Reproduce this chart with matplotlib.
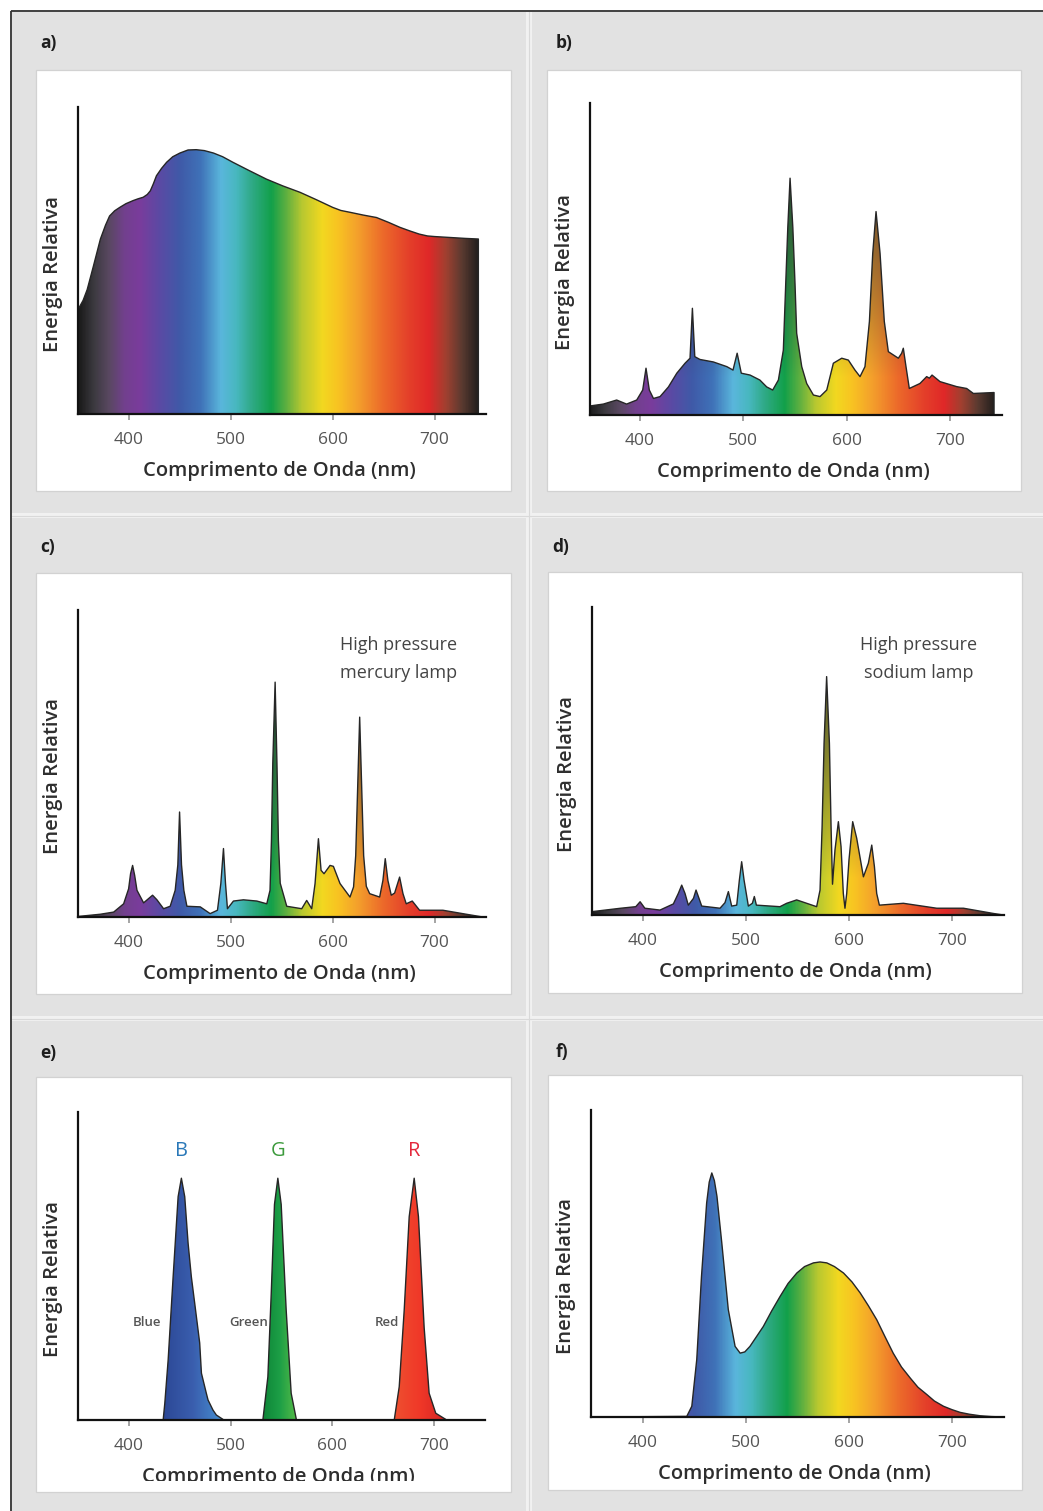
import numpy as np
import matplotlib
matplotlib.use("Agg")
import matplotlib.pyplot as plt
from matplotlib.colors import LinearSegmentedColormap, to_rgb
from matplotlib.patches import Polygon, Rectangle
from matplotlib.transforms import Bbox, TransformedBbox

plt.rcParams["font.family"] = ["Open Sans", "DejaVu Sans"]

# ---- data (wavelength nm, relative energy % of axis height) ----
A_WL = [350, 355, 359, 365, 372, 377, 381, 386, 391, 397, 404, 409, 414, 418, 421, 424, 427,
        432, 437, 443, 450, 458, 466, 474, 483, 492, 502, 518, 535, 551, 568, 584, 600, 608,
        617, 630, 643, 655, 666, 676, 685, 693, 700, 715, 730, 743]
A_EN = [34, 37, 40.5, 48, 57, 61.5, 64.5, 66.2, 67.3, 68.5, 69.5, 70.1, 70.6, 71.5, 72.7,
        75, 77.6, 80, 82, 83.8, 85, 86, 86.1, 85.8, 85, 83.8, 82, 79.3, 76.5, 74.3, 72.2,
        69.8, 67.3, 66.3, 65.7, 64.8, 64, 62.4, 60.8, 59.6, 58.6, 58, 57.8, 57.5, 57.2, 57]

B_WL = [351.6, 364.5, 377.4, 387, 396.8, 402.6, 405.8, 409, 413, 419.4, 427.5, 435.6,
        443.6, 448.4, 450.7, 453, 458, 471, 484, 490, 494, 498, 506.5, 516, 522.6, 528.4,
        533.9, 538.7, 541, 543, 545.2, 547.9, 550, 551.6, 556.5, 561.3, 567.8, 574.2, 580.7,
        587.1, 595.2, 601.6, 608, 612.9, 617.7, 622, 625.2, 628.4, 632.3, 636.4, 640.3, 650,
        653.2, 654.8, 657.4, 660.6, 670.9, 677.4, 680, 682.6, 690.3, 706.4, 716.1, 722.6,
        742.6]
B_EN = [2.9, 3.5, 4.8, 3.5, 4.8, 8, 15, 8, 5.3, 5.9, 9, 13.4, 16.6, 18.2, 34.2, 18.7,
        17.8, 17, 15.5, 14.4, 19.8, 13.4, 12.8, 11.2, 9, 8, 11.2, 20.8, 42, 60, 75.9, 60,
        42, 26.2, 15.5, 10.1, 6.4, 5.9, 8, 16.6, 18.2, 17.6, 14.4, 12.3, 15.5, 30, 51.8,
        65.2, 51.8, 30, 20.3, 18.2, 19.8, 21.4, 15.5, 8.5, 10.1, 12.3, 11.8, 12.8, 10.7,
        9.1, 8.5, 6.9, 7.2]

C_WL = [350.8, 371.9, 385, 394.8, 399.7, 401.6, 403.6, 405.6, 407.9, 414.4, 419.3, 423.2,
        427.5, 434, 440.5, 445.4, 448, 449.7, 451.6, 453.9, 456.9, 470, 479.7, 486.9,
        490.2, 492.8, 494.8, 496.7, 502.6, 512.4, 525.5, 535.3, 538.5, 539.9, 541.2, 543.5,
        545.3, 546.7, 548.5, 554.9, 569.6, 574.5, 579.4, 582.7, 586, 588.6, 591.5, 597.4,
        600.7, 607.2, 617, 620.5, 622.6, 625.2, 626.5, 627.8, 630.4, 633, 636.3, 646.1,
        649.3, 651.6, 654.2, 657.5, 660.8, 665.7, 669, 672.2, 678.1, 685.3, 708.2, 731.1,
        747.4]
C_EN = [0.2, 0.9, 1.6, 4.3, 9.2, 14.1, 16.8, 13.6, 8.7, 4.6, 6, 7.1, 5.6, 2.7, 3.5, 8.7,
        17, 34.2, 17, 8.7, 3.5, 3.3, 1.1, 2.2, 10.9, 22.3, 10.9, 2.7, 5.2, 5.6, 5.2, 4.3,
        8.7, 25, 50, 76.5, 50, 25, 11, 3.5, 2.7, 5.4, 2.7, 10.9, 25.5, 15.2, 14.1, 16.8,
        16.5, 10.9, 6.5, 9.8, 20, 50, 65.1, 50, 20, 10, 7.6, 6.5, 11.9, 19, 11.9, 7.1, 7.8,
        13, 7.6, 4.3, 5.2, 2.2, 2.2, 0.9, 0]

D_WL = [350.8, 378.4, 393, 397.2, 401.8, 416.5, 429.5, 434.3, 437.6, 440.8, 444, 449,
        451.5, 454.4, 457, 474.8, 479.6, 482.9, 486.1, 491, 493.6, 495.8, 498.1, 502.3,
        506.2, 508.1, 510.1, 533, 539.5, 549.2, 558.9, 568.6, 571.9, 573.9, 575.8, 578.3,
        581, 582.6, 584, 586.4, 589.7, 592.3, 594.5, 596.1, 597.8, 600, 603.6, 607.5,
        614, 618.8, 622.1, 624.7, 626.9, 629.5, 652.8, 685.2, 711.1, 740.2, 749.9]
D_EN = [1.1, 2.2, 2.7, 4.3, 2.2, 1.6, 3.6, 7, 9.7, 7, 3.2, 5.4, 8.1, 5.4, 2.9, 2.2, 4,
        7.6, 2.9, 3.2, 11.4, 17.3, 11.4, 2.9, 3.8, 6, 3.2, 2.7, 3.8, 4.9, 3.8, 2.7, 8.1,
        28.7, 55.7, 77.4, 55.7, 28.7, 10, 21.1, 30.3, 22.2, 7, 2.2, 7, 17.9, 30.3, 24.9,
        12.4, 16.8, 22.7, 15.7, 7, 3.2, 3.8, 2.2, 2.2, 0.5, 0]

E_BLUE_WL = [433.7, 435.3, 438.6, 443.5, 448.4, 451.6, 454.9, 458.2, 461.4, 464.7, 469.6,
             471.3, 476.1, 477.8, 482.7, 486, 492.5]
E_BLUE_EN = [0, 5.4, 19.5, 46.5, 72.5, 78.5, 72.5, 57.4, 46.5, 37.9, 25, 15.2, 8.7, 6.5,
             3.2, 1.6, 0.2]
E_GREEN_WL = [531.7, 536.6, 539.9, 543.1, 546.4, 549.7, 554.6, 559.5, 564.4]
E_GREEN_EN = [0, 14, 41, 70, 78.5, 70, 35.7, 8.7, 0.5]
E_RED_WL = [660.8, 665.7, 670.6, 675.5, 680.4, 684.6, 690.2, 695.1, 701.6, 711.4]
E_RED_EN = [0, 10.8, 35.7, 66, 78.5, 66, 30, 8.7, 2.2, 0.2]

F_WL = [351, 442.7, 447.6, 452.4, 457, 462, 464.5, 467, 469.5, 472, 476.7, 483, 489.6,
        494.5, 499, 504, 510, 517, 525, 533.3, 541, 549.5, 557, 565.6, 572, 578.6, 586,
        594.8, 603, 611, 619, 627, 635, 643, 651, 659.5, 667, 675.7, 683, 691.8, 700, 708,
        717, 727.5, 738, 750]
F_EN = [0, 0.2, 3.5, 18.7, 45.8, 69.7, 76.5, 79.5, 77, 71.9, 56.7, 35, 23, 20.8, 21.2, 23,
        26, 29.5, 34.5, 39.3, 43.5, 46.9, 49, 50.2, 50.5, 50.2, 49, 46.9, 44, 40.4, 36.2,
        31.7, 26.2, 20.8, 16.3, 12.7, 9.7, 7.3, 5.2, 3.5, 2.4, 1.5, 0.9, 0.4, 0.15, 0]

TICKS = [400, 500, 600, 700]
PANEL_LETTERS = ["a)", "b)", "c)", "d)", "e)", "f)"]
X_LABEL = "Comprimento de Onda (nm)"
Y_LABEL = "Energia Relativa"
LAMP_NOTES = {"c": ["High pressure", "mercury lamp"], "d": ["High pressure", "sodium lamp"]}
LED_LETTERS = ["B", "G", "R"]
LED_NAMES = ["Blue", "Green", "Red"]

# ---- styling ----
W, H = 1043, 1511
spectrum = LinearSegmentedColormap.from_list("spec", [
    (0.000, "#1a1a1a"), (0.0375, "#3c3a40"), (0.075, "#5a4862"), (0.1125, "#72408e"),
    (0.15, "#7a3c9c"), (0.20, "#5a4aa4"), (0.25, "#3f5aa8"), (0.30, "#3f72b8"),
    (0.35, "#5ab6dc"), (0.3875, "#48b8c0"), (0.425, "#30aa88"), (0.475, "#12a04a"),
    (0.5125, "#60b040"), (0.55, "#b8c830"), (0.60, "#f2d820"), (0.6375, "#f8c422"),
    (0.6875, "#f4a02c"), (0.75, "#ec6a2a"), (0.8125, "#e4402a"), (0.8625, "#e02828"),
    (0.905, "#a04030"), (0.945, "#5a3a30"), (0.99, "#1a1a1a"), (1.0, "#1a1a1a")])

fig = plt.figure(figsize=(W / 100, H / 100), dpi=100, facecolor="white")
bg = fig.add_axes([0, 0, 1, 1], zorder=0)
bg.set_xlim(0, W)
bg.set_ylim(H, 0)
bg.axis("off")

bg.add_patch(Rectangle((10, 10), W - 10, H - 10, facecolor="#f1f1f1", edgecolor="none"))
cols = [(12, 526), (532, W)]
rows = [(12, 513), (518, 1016), (1021, H)]
for (y0, y1) in rows:
    for (x0, x1) in cols:
        bg.add_patch(Rectangle((x0, y0), x1 - x0, y1 - y0, facecolor="#e2e2e2",
                               edgecolor="none"))
bg.plot([529, 529], [12, H], color="#d9d9d9", lw=0.8)
bg.plot([12, W], [515.5, 515.5], color="#d9d9d9", lw=0.8)
bg.plot([12, W], [1018.5, 1018.5], color="#d9d9d9", lw=0.8)
bg.plot([10.5, W], [10.5, 10.5], color="#333333", lw=1.3, solid_capstyle="butt")
bg.plot([10.5, 10.5], [10.5, H], color="#333333", lw=1.3, solid_capstyle="butt")

# panel geometry in pixels: white box, axes box (left, right, top, bottom), x limits
panels = [
    dict(key="a", box=(36, 70, 511, 491), ax=(78, 486, 107, 414), xlim=(350, 750.5),
         letter=(40, 43), wl=A_WL, en=A_EN, shade=0.0),
    dict(key="b", box=(547, 70, 1021, 491), ax=(590, 1002, 103, 415), xlim=(351.6, 750.3),
         letter=(556, 43), wl=B_WL, en=B_EN, shade=0.7),
    dict(key="c", box=(36, 573, 511, 994), ax=(78, 486, 610, 917), xlim=(350, 750.5),
         letter=(40, 547), wl=C_WL, en=C_EN, shade=0.75),
    dict(key="d", box=(548, 572, 1022, 993), ax=(592, 1004, 607, 915), xlim=(350.5, 750.5),
         letter=(552, 547), wl=D_WL, en=D_EN, shade=0.7),
    dict(key="e", box=(36, 1077, 511, 1492), ax=(78, 485, 1112, 1420), xlim=(350, 750),
         letter=(40, 1053), wl=None, en=None, shade=0.0),
    dict(key="f", box=(548, 1075, 1022, 1490), ax=(591, 1004, 1110, 1417), xlim=(349.8, 750.5),
         letter=(556, 1052), wl=F_WL, en=F_EN, shade=0.0),
]


def gradient_fill(ax, wl, en, cmap_img, zorder=2):
    verts = np.column_stack([np.r_[wl[0], wl, wl[-1]], np.r_[0, en, 0]])
    clip = Polygon(verts, closed=True, transform=ax.transData, facecolor="none",
                   edgecolor="none")
    ax.add_patch(clip)
    x0, x1 = ax.get_xlim()
    im = ax.imshow(cmap_img, extent=(x0, x1, 0, 100), origin="lower", aspect="auto",
                   interpolation="bilinear", zorder=zorder)
    im.set_clip_path(clip)
    ax.plot(list(wl) + [wl[-1]], list(en) + [0], color="#262626", lw=1.0, zorder=zorder + 1,
            solid_joinstyle="round")


def spectrum_image(xlim, shade):
    lam = np.linspace(xlim[0], xlim[1], 900)
    rgb = spectrum(np.clip((lam - 350) / 400, 0, 1))[:, :3]
    yy = np.linspace(0, 100, 400)
    s = np.clip((yy - 12) / 60, 0, 1) * shade
    dark = np.array(to_rgb("#303030"))
    return rgb[None, :, :] * (1 - s[:, None, None]) + dark * s[:, None, None]


def peak_image(xlim, lo, hi, colors):
    lam = np.linspace(xlim[0], xlim[1], 900)
    cm = LinearSegmentedColormap.from_list("pk", colors)
    rgb = cm(np.clip((lam - lo) / (hi - lo), 0, 1))[:, :3]
    return np.repeat(rgb[None, :, :], 50, axis=0)


for i, p in enumerate(panels):
    bx0, by0, bx1, by1 = p["box"]
    bg.add_patch(Rectangle((bx0, by0), bx1 - bx0, by1 - by0, facecolor="white",
                           edgecolor="#d2d2d2", lw=0.9))
    bg.text(p["letter"][0], p["letter"][1], PANEL_LETTERS[i], fontsize=12.5,
            fontweight="bold", color="#1e1e1e", va="center", ha="left")

    l, r, t, b = p["ax"]
    ax = fig.add_axes([l / W, 1 - b / H, (r - l) / W, (b - t) / H], zorder=2)
    ax.set_facecolor("none")
    ax.set_xlim(*p["xlim"])
    ax.set_ylim(0, 100)
    for side in ("top", "right"):
        ax.spines[side].set_visible(False)
    for side in ("left", "bottom"):
        ax.spines[side].set_color("#111111")
        ax.spines[side].set_linewidth(1.6)
        ax.spines[side].set_zorder(6)
    ax.set_yticks([])
    ax.set_xticks(TICKS)
    ax.set_xticklabels([str(v) for v in TICKS])
    ax.tick_params(axis="x", direction="out", length=4, width=1.1, color="#8c8c8c",
                   labelcolor="#555555", labelsize=12.5, pad=9)

    if p["key"] == "e":
        blue = peak_image(p["xlim"], 434, 492, ["#2c4896", "#3a5eae", "#4690d2"])
        green = peak_image(p["xlim"], 532, 564, ["#0e8638", "#1c9e46", "#52ba48"])
        red = peak_image(p["xlim"], 661, 711, ["#ee5030", "#f03828", "#d82424"])
        gradient_fill(ax, E_BLUE_WL, E_BLUE_EN, blue)
        gradient_fill(ax, E_GREEN_WL, E_GREEN_EN, green)
        gradient_fill(ax, E_RED_WL, E_RED_EN, red)
        led_colors = ["#2a78b8", "#3c9a3c", "#e4283c"]
        led_x = [451.6, 546.4, 680.4]
        name_x = [432, 536.5, 665.5]
        for k in range(3):
            ax.text(led_x[k], 87.3, LED_LETTERS[k], color=led_colors[k], fontsize=14.5,
                    ha="center", va="center")
            ax.text(name_x[k], 31.5, LED_NAMES[k], color="#555555", fontsize=9.5,
                    ha="right", va="center", fontweight="semibold", zorder=7)
    else:
        gradient_fill(ax, p["wl"], p["en"], spectrum_image(p["xlim"], p["shade"]))

    if p["key"] in LAMP_NOTES:
        cx = 665 if p["key"] == "c" else 668
        ys = (88.6, 79.5) if p["key"] == "c" else (87.7, 78.6)
        for line, yv in zip(LAMP_NOTES[p["key"]], ys):
            ax.text(cx, yv, line, fontsize=13, color="#444444", ha="center", va="center")

    # axis titles
    xl = bg.text((l + r) / 2 - 3, b + 57, X_LABEL, fontsize=14.5, fontweight="semibold",
                 color="#2e2e2e", ha="center", va="center")
    if p["key"] == "e":
        clip_box = TransformedBbox(Bbox.from_extents(bx0, by0, bx1, 1481), bg.transData)
        xl.set_clip_box(clip_box)
        xl.set_clip_on(True)
    bg.text(l - 25, (t + b) / 2 + 13, Y_LABEL, fontsize=14.5, fontweight="semibold",
            color="#2e2e2e", ha="center", va="center", rotation=90)

fig.savefig("out.png", dpi=100, facecolor="white")
